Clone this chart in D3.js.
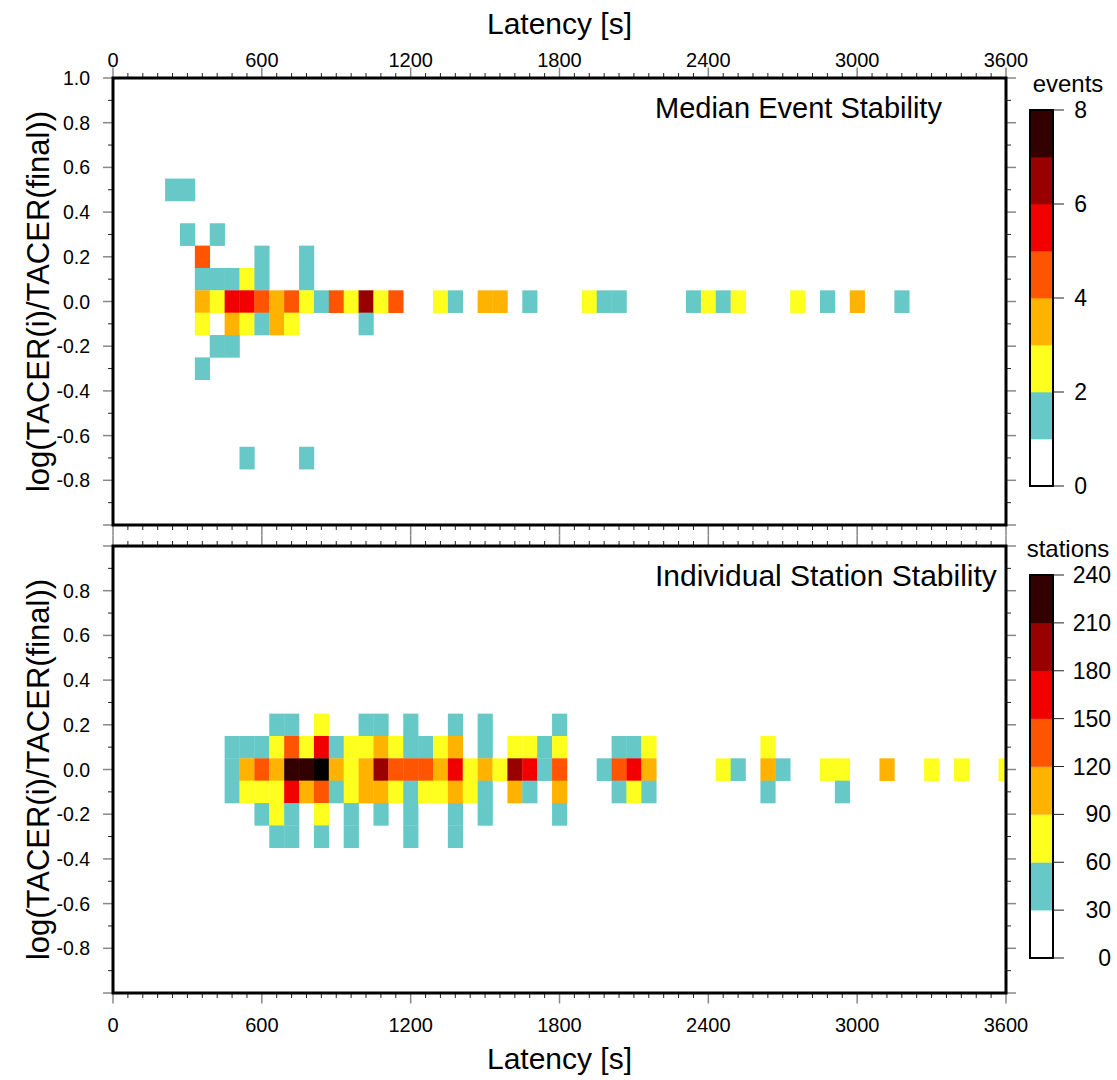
<!DOCTYPE html>
<html>
<head>
<meta charset="utf-8">
<script src="https://cdn.jsdelivr.net/npm/d3@7"></script>
<style>
  body { margin: 0; background: #fff; }
  svg { font-family: "Liberation Sans", Arial, sans-serif; }
</style>
</head>
<body>
<div id="chart"></div>
<script>
// cells: [latency (s), log(TACER(i)/TACER(final)), count]
var eventCells = [
  [240, 0.5, 1], [300, 0.5, 1],
  [300, 0.3, 1], [420, 0.3, 1],
  [360, 0.2, 4], [600, 0.2, 1], [780, 0.2, 1],
  [360, 0.1, 1], [420, 0.1, 1], [480, 0.1, 1], [540, 0.1, 2], [600, 0.1, 1], [780, 0.1, 1],
  [360, 0, 3], [420, 0, 2], [480, 0, 5], [540, 0, 5], [600, 0, 4], [660, 0, 3], [720, 0, 4],
  [780, 0, 2], [840, 0, 1], [900, 0, 4], [960, 0, 2], [1020, 0, 6], [1080, 0, 2], [1140, 0, 4],
  [1320, 0, 2], [1380, 0, 1], [1500, 0, 3], [1560, 0, 3], [1680, 0, 1], [1920, 0, 2],
  [1980, 0, 1], [2040, 0, 1], [2340, 0, 1], [2400, 0, 2], [2460, 0, 1], [2520, 0, 2],
  [2760, 0, 2], [2880, 0, 1], [3000, 0, 3], [3180, 0, 1],
  [360, -0.1, 2], [480, -0.1, 3], [540, -0.1, 2], [600, -0.1, 1], [660, -0.1, 3], [720, -0.1, 2], [1020, -0.1, 1],
  [420, -0.2, 1], [480, -0.2, 1],
  [360, -0.3, 1],
  [540, -0.7, 1], [780, -0.7, 1]
];

var stationCells = [
  [660, 0.2, 45], [720, 0.2, 45], [840, 0.2, 75], [1020, 0.2, 45], [1080, 0.2, 45],
  [1200, 0.2, 45], [1380, 0.2, 45], [1500, 0.2, 45], [1800, 0.2, 45],
  [480, 0.1, 45], [540, 0.1, 45], [600, 0.1, 45], [660, 0.1, 75], [720, 0.1, 135], [780, 0.1, 75],
  [840, 0.1, 165], [900, 0.1, 45], [960, 0.1, 75], [1020, 0.1, 75], [1080, 0.1, 105], [1140, 0.1, 75],
  [1200, 0.1, 45], [1260, 0.1, 45], [1320, 0.1, 75], [1380, 0.1, 105], [1500, 0.1, 45], [1620, 0.1, 75],
  [1680, 0.1, 75], [1740, 0.1, 45], [1800, 0.1, 75], [2040, 0.1, 45], [2100, 0.1, 45], [2160, 0.1, 75],
  [2640, 0.1, 75],
  [480, 0, 45], [540, 0, 105], [600, 0, 135], [660, 0, 105], [720, 0, 225], [780, 0, 225], [840, 0, 255],
  [900, 0, 105], [960, 0, 75], [1020, 0, 105], [1080, 0, 195], [1140, 0, 135], [1200, 0, 135],
  [1260, 0, 135], [1320, 0, 105], [1380, 0, 165], [1440, 0, 75], [1500, 0, 105], [1560, 0, 75],
  [1620, 0, 195], [1680, 0, 165], [1740, 0, 45], [1800, 0, 135], [1980, 0, 45], [2040, 0, 135],
  [2100, 0, 165], [2160, 0, 105], [2460, 0, 75], [2520, 0, 45], [2640, 0, 105], [2700, 0, 45],
  [2880, 0, 75], [2940, 0, 75], [3120, 0, 105], [3300, 0, 75], [3420, 0, 75], [3600, 0, 75],
  [480, -0.1, 45], [540, -0.1, 75], [600, -0.1, 75], [660, -0.1, 75], [720, -0.1, 165], [780, -0.1, 105],
  [840, -0.1, 135], [900, -0.1, 45], [960, -0.1, 75], [1020, -0.1, 105], [1080, -0.1, 105], [1140, -0.1, 75],
  [1200, -0.1, 45], [1260, -0.1, 75], [1320, -0.1, 75], [1380, -0.1, 105], [1440, -0.1, 75], [1500, -0.1, 45],
  [1620, -0.1, 105], [1680, -0.1, 45], [1800, -0.1, 105], [2040, -0.1, 45], [2100, -0.1, 75],
  [2160, -0.1, 45], [2640, -0.1, 45], [2940, -0.1, 45],
  [600, -0.2, 45], [660, -0.2, 75], [720, -0.2, 45], [840, -0.2, 75], [960, -0.2, 45], [1080, -0.2, 45],
  [1200, -0.2, 45], [1380, -0.2, 45], [1500, -0.2, 45], [1800, -0.2, 45],
  [660, -0.3, 45], [720, -0.3, 45], [840, -0.3, 45], [960, -0.3, 45], [1200, -0.3, 45], [1380, -0.3, 45]
];

var xTicks = [0, 600, 1200, 1800, 2400, 3000, 3600];
var palette = ["#ffffff", "#66c9c7", "#ffff1f", "#ffb300", "#ff5500", "#f20000", "#990000", "#330000", "#000000"];
var eventLevels = [0, 1, 2, 3, 4, 5, 6, 7, 8];
var stationLevels = [0, 30, 60, 90, 120, 150, 180, 210, 240];

var width = 1117, height = 1080;
var left = 113, right = 1006;
var binW = 60, binH = 0.1;

var svg = d3.select("#chart").append("svg")
  .attr("width", width)
  .attr("height", height);

var x = d3.scaleLinear().domain([0, 3600]).range([left, right]);

var panels = [
  { cells: eventCells, top: 78, bottom: 525, title: "Median Event Stability", titleSize: 29,
    levels: eventLevels, unit: "events", barTop: 110, barBottom: 486, labelX: 1087,
    labelEvery: 2, yLabels: d3.range(10, -9, -2).map(function(d) { return d / 10; }) },
  { cells: stationCells, top: 546, bottom: 993, title: "Individual Station Stability", titleSize: 30,
    levels: stationLevels, unit: "stations", barTop: 575, barBottom: 958, labelX: 1111,
    labelEvery: 1, yLabels: d3.range(8, -9, -2).map(function(d) { return d / 10; }) }
];

panels.forEach(function(p, pi) {
  var y = d3.scaleLinear().domain([-1, 1]).range([p.bottom, p.top]);
  var color = d3.scaleThreshold().domain(p.levels.slice(1)).range(palette);

  var clipId = "clip" + pi;
  svg.append("clipPath").attr("id", clipId)
    .append("rect")
    .attr("x", left).attr("y", p.top)
    .attr("width", right - left).attr("height", p.bottom - p.top);

  svg.append("g").attr("clip-path", "url(#" + clipId + ")")
    .selectAll("rect")
    .data(p.cells)
    .enter().append("rect")
    .attr("x", function(d) { return x(d[0] - binW / 2); })
    .attr("y", function(d) { return y(d[1] + binH / 2); })
    .attr("width", x(binW) - x(0) + 0.3)
    .attr("height", y(0) - y(binH) + 0.3)
    .attr("fill", function(d) { return color(d[2]); });

  // ticks
  var minorX = d3.range(0, 3601, 60).filter(function(d) { return d % 600 !== 0; });
  var minorY = d3.range(-9, 10, 2).map(function(d) { return d / 10; });
  var majorY = d3.range(-10, 11, 2).map(function(d) { return d / 10; });

  function xTickLines(yPos, dir) {
    var g = svg.append("g");
    g.selectAll(".mn").data(minorX).enter().append("line")
      .attr("x1", x).attr("x2", x)
      .attr("y1", yPos).attr("y2", yPos + dir * 5)
      .attr("stroke", "#222").attr("stroke-width", 1);
    g.selectAll(".mj").data(xTicks).enter().append("line")
      .attr("x1", x).attr("x2", x)
      .attr("y1", yPos).attr("y2", yPos + dir * 10.5)
      .attr("stroke", "#888").attr("stroke-width", 1.5);
  }
  function yTickLines(xPos, dir) {
    var g = svg.append("g");
    g.selectAll(".mn").data(minorY).enter().append("line")
      .attr("y1", y).attr("y2", y)
      .attr("x1", xPos).attr("x2", xPos + dir * 5)
      .attr("stroke", "#222").attr("stroke-width", 1);
    g.selectAll(".mj").data(majorY).enter().append("line")
      .attr("y1", y).attr("y2", y)
      .attr("x1", xPos).attr("x2", xPos + dir * 10)
      .attr("stroke", "#888").attr("stroke-width", 1.5);
  }
  xTickLines(p.top, -1);
  xTickLines(p.bottom, 1);
  yTickLines(left, -1);
  yTickLines(right, 1);

  // y labels
  svg.append("g").selectAll("text")
    .data(p.yLabels)
    .enter().append("text")
    .attr("x", 90)
    .attr("y", function(d) { return y(d) + 7; })
    .attr("text-anchor", "end")
    .attr("font-size", 19.5)
    .text(function(d) { return d.toFixed(1); });

  svg.append("text")
    .attr("transform", "translate(49," + ((p.top + p.bottom) / 2) + ") rotate(-90)")
    .attr("text-anchor", "middle")
    .attr("font-size", 31)
    .text("log(TACER(i)/TACER(final))");

  // frame
  svg.append("rect")
    .attr("x", left).attr("y", p.top)
    .attr("width", right - left).attr("height", p.bottom - p.top)
    .attr("fill", "none").attr("stroke", "#000").attr("stroke-width", 3);

  svg.append("text")
    .attr("x", 655).attr("y", p.top + 40)
    .attr("font-size", p.titleSize)
    .text(p.title);

  // colour bar
  var cb = d3.scaleLinear().domain([p.levels[0], p.levels[p.levels.length - 1]])
    .range([p.barBottom, p.barTop]);
  var bar = svg.append("g");
  bar.selectAll("rect")
    .data(p.levels.slice(0, -1))
    .enter().append("rect")
    .attr("x", 1030).attr("width", 23)
    .attr("y", function(d, i) { return cb(p.levels[i + 1]); })
    .attr("height", function(d, i) { return cb(d) - cb(p.levels[i + 1]) + 0.3; })
    .attr("fill", function(d) { return color(d); });
  bar.append("rect")
    .attr("x", 1030).attr("width", 23)
    .attr("y", p.barTop).attr("height", p.barBottom - p.barTop)
    .attr("fill", "none").attr("stroke", "#000").attr("stroke-width", 2);

  var cbTicks = p.levels.filter(function(d, i) { return i % p.labelEvery === 0; });
  bar.selectAll("line")
    .data(cbTicks)
    .enter().append("line")
    .attr("x1", 1053).attr("x2", 1064)
    .attr("y1", cb).attr("y2", cb)
    .attr("stroke", "#222").attr("stroke-width", 1);
  bar.selectAll(".lbl")
    .data(cbTicks)
    .enter().append("text")
    .attr("class", "lbl")
    .attr("x", p.labelX)
    .attr("y", function(d) { return cb(d) + 8; })
    .attr("text-anchor", "end")
    .attr("font-size", 23)
    .text(function(d) { return d; });

  svg.append("text")
    .attr("x", 1068).attr("y", p.barTop - 18)
    .attr("text-anchor", "middle")
    .attr("font-size", 24)
    .text(p.unit);
});

// x tick labels and titles
svg.append("g").selectAll("text")
  .data(xTicks).enter().append("text")
  .attr("x", x).attr("y", 67)
  .attr("text-anchor", "middle").attr("font-size", 20)
  .text(function(d) { return d; });
svg.append("g").selectAll("text")
  .data(xTicks).enter().append("text")
  .attr("x", x).attr("y", 1032)
  .attr("text-anchor", "middle").attr("font-size", 20)
  .text(function(d) { return d; });

svg.append("text")
  .attr("x", (left + right) / 2).attr("y", 34)
  .attr("text-anchor", "middle").attr("font-size", 30)
  .text("Latency [s]");
svg.append("text")
  .attr("x", (left + right) / 2).attr("y", 1069)
  .attr("text-anchor", "middle").attr("font-size", 30)
  .text("Latency [s]");
</script>
</body>
</html>
